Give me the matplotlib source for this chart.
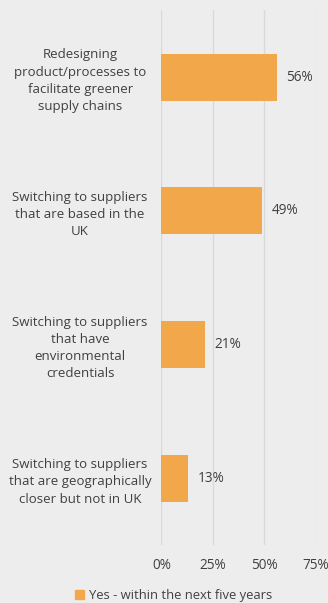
import matplotlib
matplotlib.use("Agg")
import matplotlib.pyplot as plt
from matplotlib.patches import Patch

categories = [
    "Redesigning\nproduct/processes to\nfacilitate greener\nsupply chains",
    "Switching to suppliers\nthat are based in the\nUK",
    "Switching to suppliers\nthat have\nenvironmental\ncredentials",
    "Switching to suppliers\nthat are geographically\ncloser but not in UK",
]
values = [56, 49, 21, 13]
x_ticks = [0, 25, 50, 75]
series_name = "Yes - within the next five years"

BG = "#EDEDED"
BAR = "#F2A74B"
GRID = "#D9D9D9"
TEXT = "#404040"

plt.rcParams["font.family"] = ["Open Sans", "DejaVu Sans"]

fig = plt.figure(figsize=(3.28, 6.03), dpi=100, facecolor=BG)
ax = fig.add_axes([0.492, 0.096, 0.471, 0.887])
ax.set_facecolor(BG)

ypos = list(range(len(categories)))
bars = ax.barh(ypos, values, height=0.35, color=BAR, zorder=3)
for bar, v in zip(bars, values):
    ax.text(bar.get_width() + 4.8, bar.get_y() + bar.get_height() / 2, f"{v}%",
            va="center", ha="left", fontsize=9.8, color=TEXT, zorder=4)

ax.set_ylim(len(categories) - 0.5, -0.5)
ax.set_xlim(0, 75)
ax.set_xticks(x_ticks)
ax.set_xticklabels([f"{t}%" for t in x_ticks], fontsize=9.8, color=TEXT)
ax.set_yticks(ypos)
ax.set_yticklabels(categories, fontsize=9.5, color=TEXT, ha="center", linespacing=1.42)
ax.tick_params(axis="y", length=0, pad=58.5)
ax.tick_params(axis="x", length=0, pad=9)
ax.grid(axis="x", color=GRID, linewidth=1, zorder=0)
for s in ax.spines.values():
    s.set_visible(False)

fig.legend(handles=[Patch(color=BAR, label=series_name)], loc="lower center",
           bbox_to_anchor=(0.53, -0.018), frameon=False, fontsize=9.4,
           handlelength=0.7, handleheight=0.7, handletextpad=0.4,
           labelcolor=TEXT)

fig.savefig("out.png", dpi=100, facecolor=BG)
